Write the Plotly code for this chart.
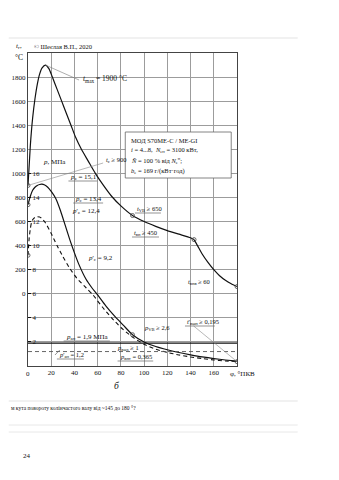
import plotly.graph_objects as go

# --- crank angle, deg after TDC, and gas temperature in the cylinder, °C ---
phi_t = [0, 2, 4, 6, 8, 10, 12, 15, 18, 21, 25, 29, 33, 37, 41, 46, 52, 58,
         65, 72, 80, 90, 100, 110, 120, 130, 140, 143]
t_gas = [900, 1230, 1460, 1620, 1740, 1825, 1875, 1900, 1870, 1800, 1700,
         1600, 1500, 1400, 1300, 1200, 1100, 1000, 900, 810, 730, 650, 600, 560,
         525, 495, 465, 450]
# after exhaust valve opening
phi_exh = [143, 146, 150, 155, 160, 165, 170, 175, 180]
t_exh = [450, 400, 330, 260, 200, 150, 112, 83, 60]

# --- cylinder pressure, MPa (working cycle) ---
phi_p = [0, 2, 4, 6, 8, 10, 12, 14, 17, 20, 24, 28, 32, 36, 40, 44, 50, 55, 60,
         67, 75, 82, 90, 100, 110, 120, 130, 140, 150, 160, 170, 180]
p_cyl = [13.4, 14.1, 14.6, 14.85, 15.0, 15.08, 15.1, 15.05, 14.85, 14.5, 13.9,
         12.9, 11.7, 10.5, 9.4, 8.4, 7.2, 6.5, 5.9, 5.0, 4.1, 3.4, 2.6, 2.0, 1.62,
         1.35, 1.12, 0.93, 0.76, 0.62, 0.5, 0.4]

# --- cylinder pressure, MPa (second regime, dashed) ---
phi_q = [0, 1, 2, 3, 4, 6, 8, 10, 12, 15, 20, 25, 30, 36, 42, 50, 56, 64, 72, 80,
         90, 100, 110, 120, 130, 140, 150, 160, 170, 180]
p_q = [9.2, 10.6, 11.4, 11.9, 12.15, 12.35, 12.4, 12.38, 12.25, 11.9, 11.0, 10.0,
       9.1, 8.1, 7.3, 6.5, 5.9, 4.9, 4.0, 3.2, 2.4, 1.8, 1.4, 1.12, 0.92, 0.75,
       0.62, 0.5, 0.42, 0.365]

# charge-air pressures, MPa
p_an = 1.9
p_an2 = 1.2

# axis ticks
t_ticks = [-400, -200, 0, 200, 400, 600, 800, 1000, 1200, 1400, 1600, 1800]
t_text = ["", "", "0", "200", "400", "600", "800", "1000", "1200", "1400", "1600", "1800"]
p_ticks = [2, 4, 6, 8, 10, 12, 14, 16]
phi_ticks = [0, 20, 40, 60, 80, 100, 120, 140, 160]

# plot frame in page pixels
X0, X1, YB, YT = 20, 237, 366, 53
W, H = 339, 480
FONT = "Liberation Serif"


def xp(x):
    return (x - X0) / (X1 - X0)


def yp(y):
    return (YB - y) / (YB - YT)


def px2phi(x):
    return (x - X0) / (X1 - X0) * 180


def py2t(y):
    return -600 + (YB - y) / (YB - YT) * 2600


ink = "#111111"
fig = go.Figure()

fig.add_trace(go.Scatter(x=phi_t, y=t_gas, mode="lines",
                         line=dict(color=ink, width=1.2, shape="spline", smoothing=0.6)))
fig.add_trace(go.Scatter(x=phi_exh, y=t_exh, mode="lines",
                         line=dict(color=ink, width=1.2, shape="spline", smoothing=0.6)))
fig.add_trace(go.Scatter(x=phi_p, y=p_cyl, mode="lines", yaxis="y2",
                         line=dict(color=ink, width=1.2, shape="spline", smoothing=0.6)))
fig.add_trace(go.Scatter(x=phi_q, y=p_q, mode="lines", yaxis="y2",
                         line=dict(color=ink, width=1.1, dash="4px,3px",
                                   shape="spline", smoothing=0.6)))
# charge-air pressure levels
fig.add_trace(go.Scatter(x=[0, 180], y=[p_an, p_an], mode="lines", yaxis="y2",
                         line=dict(color=ink, width=1.1)))
fig.add_trace(go.Scatter(x=[0, 180], y=[p_an2, p_an2], mode="lines", yaxis="y2",
                         line=dict(color="#555", width=0.9, dash="4px,3px")))

# characteristic points
mk = dict(symbol="circle-open", size=4, color="#444", line=dict(width=0.8))
fig.add_trace(go.Scatter(x=[phi_t[0], 90, phi_exh[0], phi_exh[-1]],
                         y=[t_gas[0], 650, t_exh[0], t_exh[-1]],
                         mode="markers", marker=mk))
fig.add_trace(go.Scatter(x=[phi_p[0], phi_q[0], 90, phi_q[-1]],
                         y=[p_cyl[0], p_q[0], 2.6, p_q[-1]],
                         mode="markers", marker=mk, yaxis="y2"))

grid = "#9c9c9c"
fig.update_layout(
    width=W, height=H, showlegend=False,
    margin=dict(l=X0, r=W - X1, t=YT, b=H - YB, pad=0),
    paper_bgcolor="white", plot_bgcolor="white",
    font=dict(family=FONT, size=7, color=ink),
    xaxis=dict(range=[0, 180], tickvals=phi_ticks, showgrid=True, gridcolor=grid,
               gridwidth=0.8, zeroline=False, showline=True, linecolor="#444",
               linewidth=1, mirror=True, ticks="", tickfont=dict(size=7, color=ink)),
    yaxis=dict(range=[-600, 2000], tickvals=t_ticks, ticktext=t_text, showgrid=True,
               gridcolor=grid, gridwidth=0.8, zeroline=False, showline=True,
               linecolor="#444", linewidth=1, mirror=True, ticks="",
               tickfont=dict(size=7, color=ink)),
    yaxis2=dict(range=[0, 26], overlaying="y", side="left", anchor="x",
                tickvals=p_ticks, ticklabelposition="inside", ticks="inside",
                ticklen=3, tickcolor=ink, showgrid=False, zeroline=False,
                showline=False, tickfont=dict(size=7, color=ink)),
)

anns = []


def label(x, y, text, size=7, anchor="left", color=ink):
    anns.append(dict(x=xp(x), y=yp(y), xref="paper", yref="paper", text=text,
                     showarrow=False, xanchor=anchor, yanchor="middle",
                     font=dict(family=FONT, size=size, color=color)))


label(24, 46, "© Шеєлая В.П., 2020", 6.5)
label(11, 46, "<i>t</i><sub>г</sub>,", 7, "center")
label(11, 58, "°C", 7.5, "center")
label(20, 374, "0", 7, "center")
label(75, 79, "<i>t</i><sub>max</sub> = 1900 °C", 7.5)
label(99, 160, "<i>t</i><sub>c</sub> ≥ 900", 6.5)
label(34, 162, "<i>p</i>, МПа", 7)
label(62, 177, "<i>p</i><sub>z</sub> = 15,1", 7)
label(67, 199, "<i>p</i><sub>c</sub> = 13,4", 7)
label(64, 211, "<i>p</i>'<sub>z</sub> = 12,4", 7)
label(80, 258, "<i>p</i>'<sub>c</sub> = 9,2", 7)
label(131, 209, "<i>t</i><sub>VВ</sub> ≥ 650", 6.5)
label(128, 233, "<i>t</i><sub>вп</sub> ≥ 450", 6.5)
label(184, 282, "<i>t</i><sub>впв</sub> ≥ 60", 6.5)
label(183, 322, "<i>t</i>'<sub>вып</sub> ≥ 0,195", 6.5)
label(138, 328, "<i>p</i><sub>VВ</sub> ≥ 2,6", 6.5)
label(57, 337, "<i>p</i><sub>ан</sub> = 1,9 МПа", 7)
label(110, 348, "<i>p</i><sub>вых</sub> ≥ 1", 6.5)
label(50, 355, "<i>p</i>'<sub>ан</sub> = 1,2", 6.5)
label(113, 357, "<i>p</i><sub>впт</sub> = 0,365", 6.5)
label(228, 374, "φ, °ПКВ", 7)
label(112, 386, "<i>б</i>", 9.5, "center")
label(0, 408, "м кута повороту колінчастого валу від ~145 до 180 °?", 5.5)
label(13, 456, "24", 7)

# engine data box
box_lines = [
    "МОД S70ME-C / ME-GI",
    "<i>i</i> = 4...8,  <i>N</i><sub>ен</sub> = 3100 кВт,",
    "<i>N̄</i> = 100 % від <i>N</i><sub>e</sub><sup>н</sup>;",
    "<i>b</i><sub>e</sub> = 169 г/(кВт·год)",
]
for i, s in enumerate(box_lines):
    label(125, 140 + i * 10.2, s, 6.5)

fig.update_layout(annotations=anns)

shapes = []


def pline(x0, y0, x1, y1, color="#666", width=0.7, dash="solid"):
    shapes.append(dict(type="line", xref="paper", yref="paper", x0=xp(x0), y0=yp(y0),
                       x1=xp(x1), y1=yp(y1), line=dict(color=color, width=width, dash=dash)))


# info box
shapes.append(dict(type="rect", xref="paper", yref="paper", x0=xp(121), y0=yp(178),
                   x1=xp(231), y1=yp(132), fillcolor="white",
                   line=dict(color="#666", width=0.8), layer="above"))

# leader lines from labelled points
shapes.append(dict(type="line", xref="x", yref="y", x0=phi_t[7], y0=t_gas[7],
                   x1=px2phi(73), y1=py2t(80), line=dict(color="#777", width=0.6)))
shapes.append(dict(type="line", xref="x", yref="y", x0=phi_t[0], y0=t_gas[0],
                   x1=px2phi(98), y1=py2t(163), line=dict(color="#888", width=0.6)))
shapes.append(dict(type="line", xref="x", yref="y", x0=phi_q[-1], y0=(p_q[-1] * 100 - 600),
                   x1=px2phi(192), y1=py2t(326), line=dict(color="#888", width=0.6)))
pline(48, 355, 53, 350)

# label underlines
pline(62, 181, 92, 181)
pline(67, 203, 98, 203)
pline(131, 213, 158, 213)
pline(128, 237, 156, 237)
pline(183, 326, 214, 326)
pline(57, 341, 105, 341)
pline(50, 359, 78, 359)
pline(113, 361, 150, 361)

# page rules
pline(0, 38, 300, 38, "#dcdcdc", 0.8)
pline(0, 401, 300, 401, "#dcdcdc", 0.8)
pline(0, 425, 300, 425, "#e2e2e2", 0.8)
pline(0, 432, 300, 432, "#e2e2e2", 0.8)

fig.update_layout(shapes=shapes)

fig.write_html("out.html")
